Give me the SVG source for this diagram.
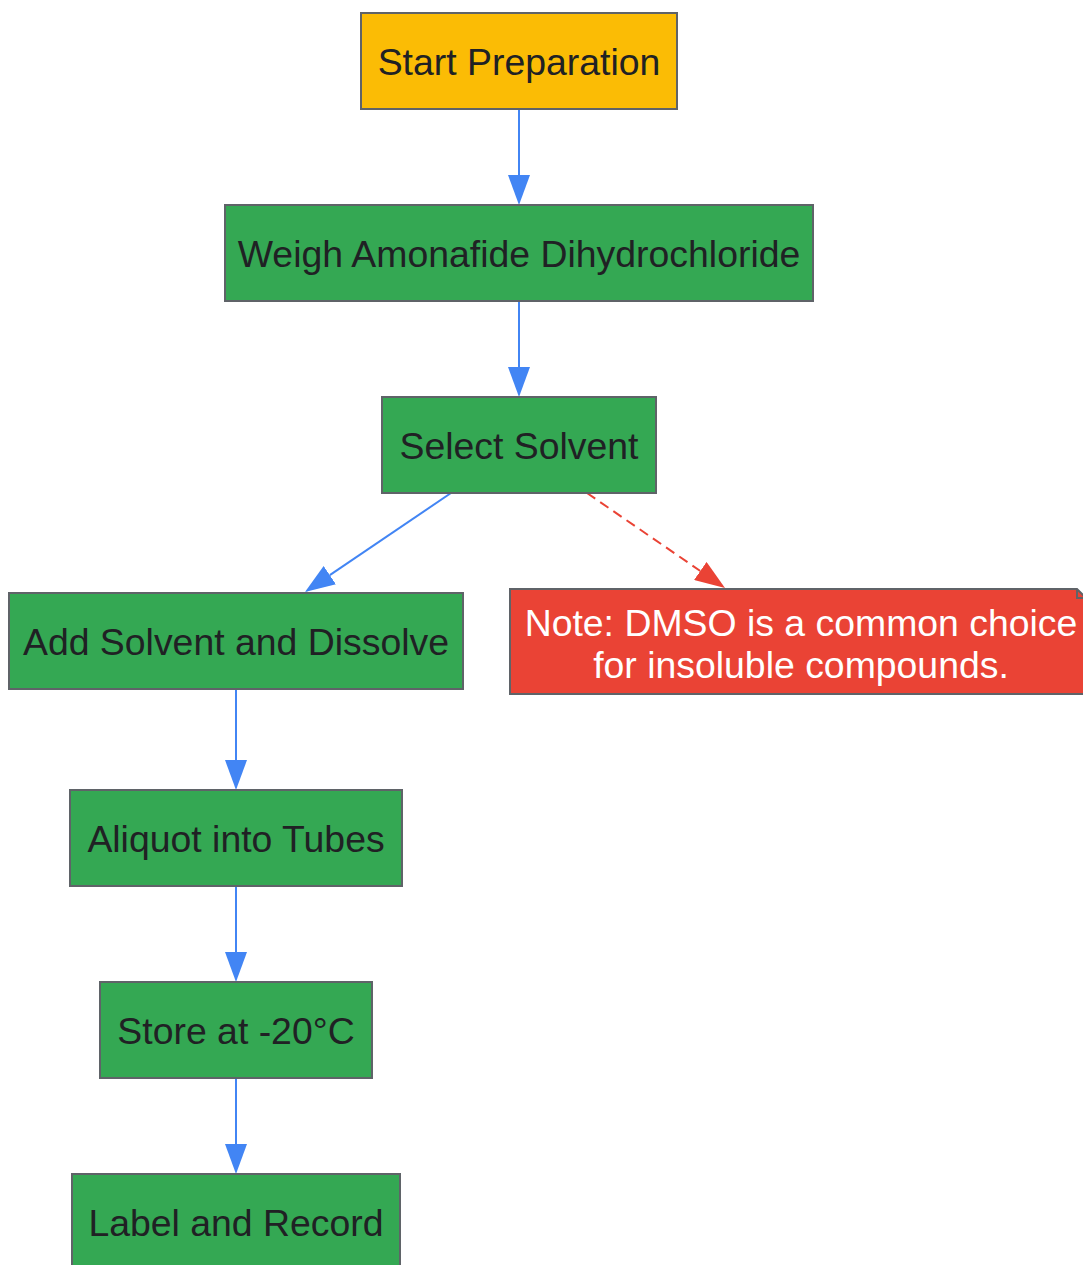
<svg xmlns="http://www.w3.org/2000/svg" width="1083" height="1265" viewBox="0 0 1083 1265">
<defs>
<style>
.node{stroke:#5f6368;stroke-width:2}
.g{fill:#34A853}
.t{font-family:"Liberation Sans",Arial,sans-serif;font-size:37.4px;fill:#202124;text-anchor:middle}
.w{fill:#ffffff}
.e{stroke:#4285F4;stroke-width:2;fill:none}
.d{stroke:#EA4335;stroke-width:2;fill:none;stroke-dasharray:10,6}
</style>
<marker id="ab" viewBox="0 0 30 22" refX="0" refY="11" markerWidth="30" markerHeight="22" markerUnits="userSpaceOnUse" orient="auto"><path d="M0,0 L30,11 L0,22 Z" fill="#4285F4"/></marker>
<marker id="ar" viewBox="0 0 30 22" refX="0" refY="11" markerWidth="30" markerHeight="22" markerUnits="userSpaceOnUse" orient="auto"><path d="M0,0 L30,11 L0,22 Z" fill="#EA4335"/></marker>
</defs>
<rect width="1083" height="1265" fill="#ffffff"/>
<g id="edges">
<line class="e" x1="519" y1="109" x2="519" y2="175" marker-end="url(#ab)"/>
<line class="e" x1="519" y1="301" x2="519" y2="367" marker-end="url(#ab)"/>
<line class="e" x1="451" y1="493" x2="329.8" y2="575.2" marker-end="url(#ab)"/>
<line class="d" x1="587" y1="493" x2="700.3" y2="571" marker-end="url(#ar)"/>
<line class="e" x1="236" y1="689" x2="236" y2="760" marker-end="url(#ab)"/>
<line class="e" x1="236" y1="886" x2="236" y2="952" marker-end="url(#ab)"/>
<line class="e" x1="236" y1="1078" x2="236" y2="1144" marker-end="url(#ab)"/>
</g>
<g id="start">
<rect class="node" x="361" y="13" width="316" height="96" fill="#FBBC05"/>
<text class="t" x="519" y="75">Start Preparation</text>
</g>
<g id="weigh">
<rect class="node g" x="225" y="205" width="588" height="96"/>
<text class="t" x="519" y="267">Weigh Amonafide Dihydrochloride</text>
</g>
<g id="select">
<rect class="node g" x="382" y="397" width="274" height="96"/>
<text class="t" x="519" y="459">Select Solvent</text>
</g>
<g id="add">
<rect class="node g" x="9" y="593" width="454" height="96"/>
<text class="t" x="236" y="655">Add Solvent and Dissolve</text>
</g>
<g id="note">
<path class="node" d="M510,589 L1077,589 L1086,598 L1086,694 L510,694 Z" fill="#EA4335"/>
<path class="node" d="M1077,589 L1077,598 L1086,598" fill="none"/>
<text class="t w" x="801" y="636">Note: DMSO is a common choice</text>
<text class="t w" x="801" y="678">for insoluble compounds.</text>
</g>
<g id="aliquot">
<rect class="node g" x="70" y="790" width="332" height="96"/>
<text class="t" x="236" y="852">Aliquot into Tubes</text>
</g>
<g id="store">
<rect class="node g" x="100" y="982" width="272" height="96"/>
<text class="t" x="236" y="1044">Store at -20°C</text>
</g>
<g id="label">
<rect class="node g" x="72" y="1174" width="328" height="96"/>
<text class="t" x="236" y="1236">Label and Record</text>
</g>
</svg>
